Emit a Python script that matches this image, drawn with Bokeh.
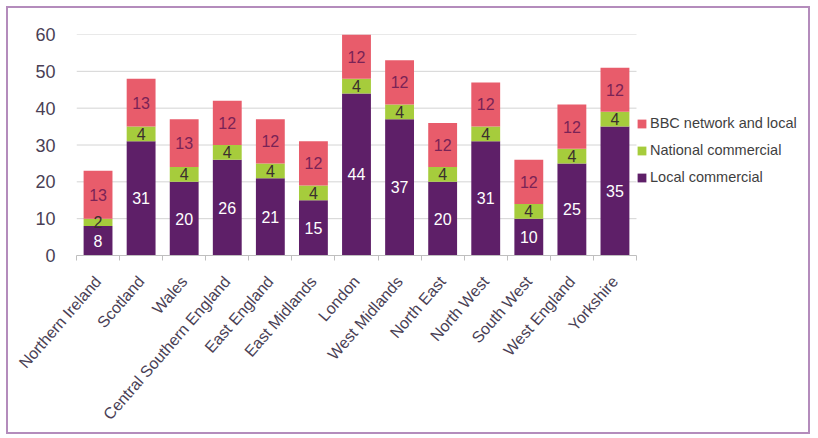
import numpy as np
from bokeh.plotting import figure
from bokeh.models import (ColumnDataSource, FixedTicker, Legend, LegendItem,
                          Range1d, LabelSet)
from bokeh.core.properties import value
from bokeh.embed import file_html
from bokeh.resources import INLINE

regions = ["Northern Ireland", "Scotland", "Wales", "Central Southern England",
           "East England", "East Midlands", "London", "West Midlands",
           "North East", "North West", "South West", "West England", "Yorkshire"]
local_commercial = [8, 31, 20, 26, 21, 15, 44, 37, 20, 31, 10, 25, 35]
national_commercial = [2, 4, 4, 4, 4, 4, 4, 4, 4, 4, 4, 4, 4]
bbc_network_local = [13, 13, 13, 12, 12, 12, 12, 12, 12, 12, 12, 12, 12]
y_ticks = [0, 10, 20, 30, 40, 50, 60]

FONT = "Liberation Sans"
C_LOCAL = "#5e1f68"
C_NAT = "#a6cc3c"
C_BBC = "#e85c6b"

n = len(regions)
xc = np.arange(n) + 0.5
loc = np.array(local_commercial, dtype=float)
nat = np.array(national_commercial, dtype=float)
bbc = np.array(bbc_network_local, dtype=float)

src = ColumnDataSource(dict(
    x=xc,
    loc_top=loc, nat_bot=loc, nat_top=loc + nat, bbc_bot=loc + nat, bbc_top=loc + nat + bbc,
    loc_mid=loc / 2, nat_mid=loc + nat / 2, bbc_mid=loc + nat + bbc / 2,
    loc_txt=[str(int(v)) for v in loc],
    nat_txt=[str(int(v)) for v in nat],
    bbc_txt=[str(int(v)) for v in bbc],
))

W, H = 804, 428
ML, MR, MT, MB = 68, 6, 26, 181
frame_w = W - ML - MR
plot_w = 560  # pixel width of the bar area within the frame
x_end = n * frame_w / plot_w

p = figure(width=W, height=H, output_backend="svg", toolbar_location=None,
           x_range=Range1d(0, x_end), y_range=Range1d(0, 60),
           min_border_left=ML, min_border_right=MR, min_border_top=MT,
           min_border_bottom=MB)
p.styles = {"border": "2px solid #b48cbc", "margin-left": "6px", "margin-top": "6px"}
p.outline_line_color = None
p.background_fill_color = "white"

# horizontal gridlines restricted to the bar area
gy = y_ticks[1:]
p.segment(x0=[0] * len(gy), x1=[n] * len(gy), y0=gy, y1=gy,
          line_color="#d4d4d4", line_width=1)

w = 0.67
r_loc = p.vbar(x="x", bottom=0, top="loc_top", width=w, source=src,
               fill_color=C_LOCAL, line_color=None)
r_nat = p.vbar(x="x", bottom="nat_bot", top="nat_top", width=w, source=src,
               fill_color=C_NAT, line_color=None)
r_bbc = p.vbar(x="x", bottom="bbc_bot", top="bbc_top", width=w, source=src,
               fill_color=C_BBC, line_color=None)

for col, ycol, color in [("loc_txt", "loc_mid", "white"),
                         ("nat_txt", "nat_mid", "#3b2f2f"),
                         ("bbc_txt", "bbc_mid", "#7a2356")]:
    ls = LabelSet(x="x", y=ycol, text=col, source=src, text_align="center",
                  text_baseline="middle", text_color=color,
                  text_font=value(FONT), text_font_size="16px")
    p.add_layout(ls)

# y axis
p.yaxis.ticker = FixedTicker(ticks=y_ticks)
p.yaxis.axis_line_color = None
p.yaxis.major_tick_line_color = None
p.yaxis.minor_tick_line_color = None
p.yaxis.major_label_standoff = 15
p.yaxis.major_label_text_font = FONT
p.yaxis.major_label_text_font_size = "18px"
p.yaxis.major_label_text_color = "#4a3f55"
p.ygrid.grid_line_color = None

# x axis
p.xaxis.bounds = (0, n)
p.xaxis.ticker = FixedTicker(ticks=list(xc), minor_ticks=list(np.arange(n + 1)))
p.xaxis.major_label_overrides = {float(x): r for x, r in zip(xc, regions)}
p.xaxis.major_label_orientation = np.deg2rad(49)
p.xaxis.major_tick_line_color = None
p.xaxis.minor_tick_line_color = "#bfbfbf"
p.xaxis.minor_tick_out = 5
p.xaxis.minor_tick_in = 0
p.xaxis.axis_line_color = "#bfbfbf"
p.xaxis.major_label_standoff = 17
p.xaxis.major_label_text_font = FONT
p.xaxis.major_label_text_font_size = "16px"
p.xaxis.major_label_text_color = "#4a3f55"
p.xgrid.grid_line_color = None

legend = Legend(items=[
    LegendItem(label="BBC network and local", renderers=[r_bbc]),
    LegendItem(label="National commercial", renderers=[r_nat]),
    LegendItem(label="Local commercial", renderers=[r_loc]),
], location=(560, 68))
legend.glyph_width = 11
legend.glyph_height = 11
legend.label_height = 20
legend.spacing = 7
legend.padding = 0
legend.margin = 0
legend.label_standoff = 3
legend.border_line_color = None
legend.background_fill_alpha = 0
legend.label_text_font = FONT
legend.label_text_font_size = "14.5px"
legend.label_text_color = "#3f3f3f"
p.add_layout(legend)

open("out.html", "w").write(file_html(p, INLINE))
